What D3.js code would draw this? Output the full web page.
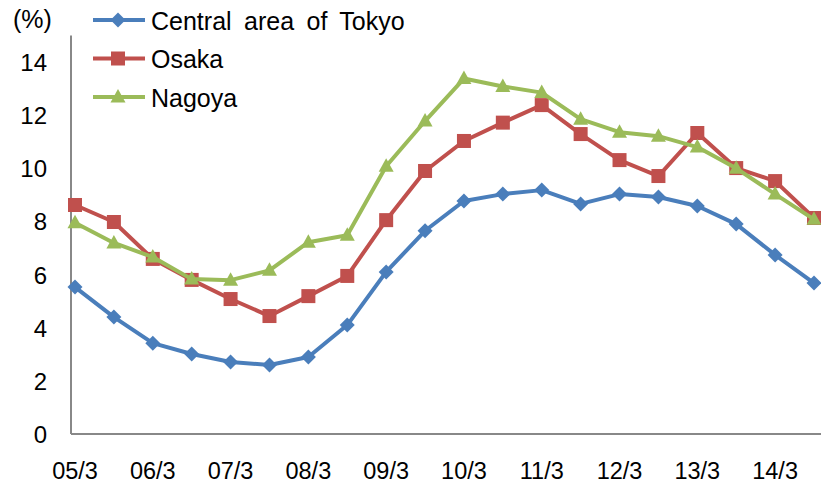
<!DOCTYPE html>
<html>
<head>
<meta charset="utf-8">
<script src="https://cdn.jsdelivr.net/npm/d3@7"></script>
<style>
  body { margin: 0; background: #fff; }
  text { font-family: "Liberation Sans", Arial, sans-serif; fill: #000; }
</style>
</head>
<body>
<script>
// half-year periods, 05/3 .. 14/9
var periods = ["05/3","05/9","06/3","06/9","07/3","07/9","08/3","08/9","09/3","09/9",
               "10/3","10/9","11/3","11/9","12/3","12/9","13/3","13/9","14/3","14/9"];
var xLabels = ["05/3","06/3","07/3","08/3","09/3","10/3","11/3","12/3","13/3","14/3"];
var yTicks = [0, 2, 4, 6, 8, 10, 12, 14];

var tokyo  = [5.53, 4.40, 3.42, 3.01, 2.71, 2.60, 2.90, 4.10, 6.10, 7.65,
              8.77, 9.03, 9.18, 8.66, 9.03, 8.92, 8.58, 7.90, 6.74, 5.68];
var osaka  = [8.62, 7.98, 6.59, 5.80, 5.08, 4.44, 5.19, 5.95, 8.05, 9.90,
              11.03, 11.72, 12.38, 11.29, 10.31, 9.71, 11.33, 10.01, 9.52, 8.13];
var nagoya = [7.95, 7.19, 6.66, 5.83, 5.79, 6.16, 7.22, 7.48, 10.08, 11.78,
              13.38, 13.08, 12.85, 11.85, 11.36, 11.21, 10.80, 10.00, 9.03, 8.08];

var series = [
  { name: "Central area of Tokyo", values: tokyo,  color: "#4a7ebb", marker: "diamond" },
  { name: "Osaka",                 values: osaka,  color: "#c0504d", marker: "square" },
  { name: "Nagoya",                values: nagoya, color: "#9bbb59", marker: "triangle" }
];

var w = 821, h = 487;

var svg = d3.select("body").append("svg").attr("width", w).attr("height", h);

var x = d3.scalePoint().domain(periods).range([75, 814]);
var y = d3.scaleLinear().domain([0, 15]).range([434, 35.5]);

// axes
svg.append("line")
  .attr("x1", 71).attr("x2", 71)
  .attr("y1", y(15)).attr("y2", y(0))
  .attr("stroke", "#888").attr("stroke-width", 2);
svg.append("line")
  .attr("x1", 71).attr("x2", w)
  .attr("y1", y(0)).attr("y2", y(0))
  .attr("stroke", "#888").attr("stroke-width", 2);

svg.selectAll(".ytick")
  .data(yTicks)
  .enter().append("text")
  .attr("class", "ytick")
  .attr("x", 47)
  .attr("y", function(d) { return y(d) + 9; })
  .attr("text-anchor", "end")
  .style("font-size", "24px")
  .text(function(d) { return d; });

svg.append("text")
  .attr("x", 13).attr("y", 28)
  .style("font-size", "25px")
  .text("(%)");

svg.selectAll(".xtick")
  .data(xLabels)
  .enter().append("text")
  .attr("class", "xtick")
  .attr("x", function(d) { return x(d); })
  .attr("y", 479)
  .attr("text-anchor", "middle")
  .style("font-size", "23.5px")
  .text(function(d) { return d; });

// markers
var symbols = {
  diamond: function(g, c) {
    g.append("path").attr("d", "M0,-7.5L7.5,0L0,7.5L-7.5,0Z").attr("fill", c);
  },
  square: function(g, c) {
    g.append("rect").attr("x", -7).attr("y", -7).attr("width", 14).attr("height", 14).attr("fill", c);
  },
  triangle: function(g, c) {
    g.append("path").attr("d", "M0,-8L7.5,5.5L-7.5,5.5Z").attr("fill", c);
  }
};

var line = d3.line()
  .x(function(d, i) { return x(periods[i]); })
  .y(function(d) { return y(d); });

series.forEach(function(s) {
  svg.append("path")
    .datum(s.values)
    .attr("d", line)
    .attr("fill", "none")
    .attr("stroke", s.color)
    .attr("stroke-width", 4)
    .attr("stroke-linejoin", "round");

  svg.selectAll(".m-" + s.marker)
    .data(s.values)
    .enter().append("g")
    .attr("class", "m-" + s.marker)
    .attr("transform", function(d, i) { return "translate(" + x(periods[i]) + "," + y(d) + ")"; })
    .each(function() { symbols[s.marker](d3.select(this), s.color); });
});

// legend
var legend = svg.append("g").attr("class", "legend");
series.forEach(function(s, i) {
  var ly = 20 + i * 38.5;
  var g = legend.append("g");
  g.append("line")
    .attr("x1", 93).attr("x2", 145)
    .attr("y1", ly).attr("y2", ly)
    .attr("stroke", s.color).attr("stroke-width", 4);
  var m = g.append("g").attr("transform", "translate(118," + ly + ")");
  symbols[s.marker](m, s.color);
  g.append("text")
    .attr("x", 151).attr("y", ly + 9.5)
    .style("font-size", "25px")
    .style("word-spacing", "5.5px")
    .text(s.name);
});
</script>
</body>
</html>
